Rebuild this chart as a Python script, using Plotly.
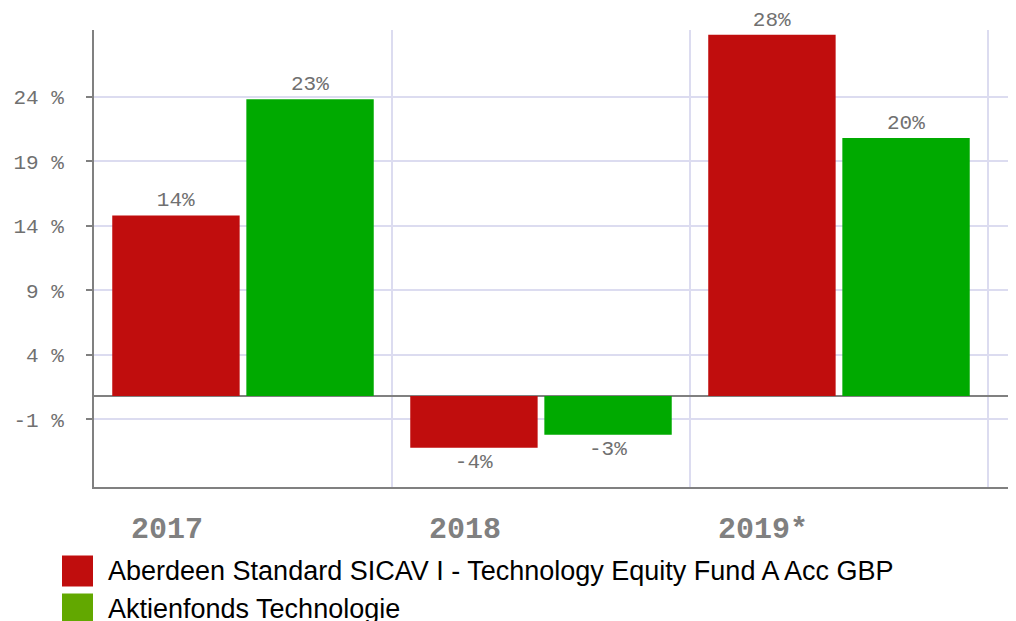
import plotly.graph_objects as go

categories = ["2017", "2018", "2019*"]
series_names = ["Aberdeen Standard SICAV I - Technology Equity Fund A Acc GBP",
                "Aktienfonds Technologie"]
fund_values = [14, -4, 28]
peer_values = [23, -3, 20]
bar_colors = ["#c00d0d", "#00aa00"]
legend_colors = ["#c00d0d", "#62a800"]
y_tick_values = [-1.8, 3.2, 8.2, 13.2, 18.2, 23.2]
y_tick_labels = ["-1 %", "4 %", "9 %", "14 %", "19 %", "24 %"]

# the page body adds an 8px margin; work in reference-pixel coordinates
OFF = 8
W, H = 1016 - OFF, 621 - OFF
L, R, T = 94 - OFF, 0, 30 - OFF
PLOT_BOTTOM = 487 - OFF
B = H - PLOT_BOTTOM
pw, ph = W - L - R, H - T - B

def px_x(p):
    return (p - OFF - L) / pw

def px_y(p):
    return (PLOT_BOTTOM - (p - OFF)) / ph

fig = go.Figure()
for name, vals, col in zip(series_names, [fund_values, peer_values], bar_colors):
    fig.add_trace(go.Bar(
        x=categories, y=vals, name=name,
        marker=dict(color=col, line=dict(width=0)),
        text=[f"{v}%" for v in vals],
        textposition="outside",
        textfont=dict(family="Liberation Mono", size=21, color="#707070"),
        constraintext="none",
        cliponaxis=False,
        showlegend=False,
    ))

# legend (drawn in paper space to reproduce large swatches)
legend_rows = [571, 609]
for name, col, yc in zip(series_names, legend_colors, legend_rows):
    fig.add_shape(type="rect", xref="paper", yref="paper",
                  x0=px_x(62), x1=px_x(93), y0=px_y(yc - 15.5), y1=px_y(yc + 15.5),
                  fillcolor=col, line=dict(width=0), layer="above")
    fig.add_annotation(xref="paper", yref="paper", x=px_x(106), y=px_y(yc),
                       text=name, showarrow=False, xanchor="left", yanchor="middle",
                       font=dict(family="Liberation Sans", size=27, color="#000000"))

for i, c in enumerate(categories):
    fig.add_annotation(xref="x", yref="paper", x=i, y=px_y(530), xshift=-76,
                       text=f"<b>{c}</b>", showarrow=False, xanchor="center", yanchor="middle",
                       font=dict(family="Liberation Mono", size=30, color="#808080"))

fig.update_layout(
    width=W, height=H, autosize=False,
    margin=dict(l=L, r=R, t=T, b=B, pad=0),
    plot_bgcolor="white", paper_bgcolor="white",
    barmode="group", bargap=0.1, bargroupgap=0.05,
    showlegend=False,
    xaxis=dict(type="category", categoryorder="array", categoryarray=categories,
               range=[-0.5, 2.594], tickson="boundaries", showgrid=True,
               gridcolor="#dcdcf0", gridwidth=2, showticklabels=False, ticks="",
               showline=True, linecolor="#808080", linewidth=2, zeroline=False),
    yaxis=dict(range=[-7.05, 28.37], tickvals=y_tick_values, ticktext=y_tick_labels,
               showgrid=True, gridcolor="#dcdcf0", gridwidth=2,
               zeroline=True, zerolinecolor="#808080", zerolinewidth=2,
               showline=True, linecolor="#808080", linewidth=2,
               ticks="outside", ticklen=6, tickcolor="#808080", tickwidth=2,
               ticklabelstandoff=18,
               tickfont=dict(family="Liberation Mono", size=21, color="#707070")),
)

fig.write_html("out.html")
